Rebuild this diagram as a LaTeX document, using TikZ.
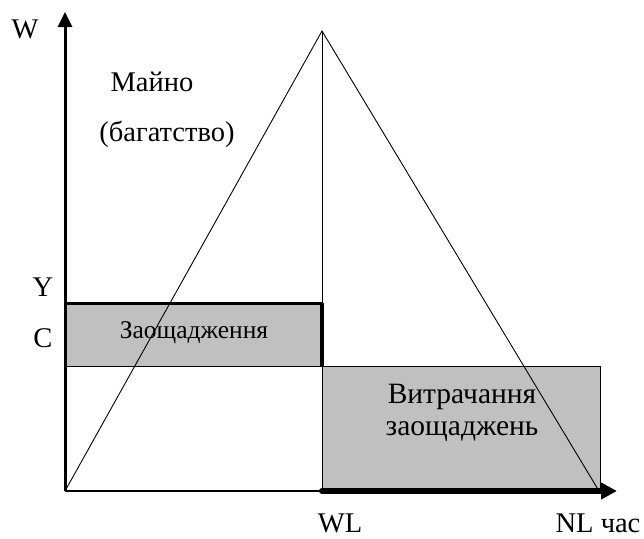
\documentclass[tikz,border=0pt]{standalone}
\usepackage{fontspec}
\setmainfont{Liberation Serif}
\usetikzlibrary{arrows.meta}
\definecolor{savegray}{RGB}{192,192,192}

\begin{document}
\begin{tikzpicture}[
          x=1pt, y=-1pt,
          label/.style={font=\fontsize{28.5}{31}\selectfont, inner sep=0pt, anchor=base},
          area/.style={fill=savegray, draw=black, line width=0.8pt},
          thinline/.style={line width=0.9pt},
          axis/.style={line width=3pt, -{Triangle[width=14pt,length=15pt]}},
          ]
          \useasboundingbox (0,0) rectangle (644,538);

          % main points of the scheme
          \coordinate (O) at (65,491);
          \coordinate (yend) at (65,12);
          \coordinate (top) at (322,31);
          \coordinate (nl) at (599,491);
          \coordinate (wl) at (322,491);
          \coordinate (xend) at (617,491);
          \coordinate (yl) at (65,303);
          \coordinate (cl) at (65,366);
          \coordinate (wy) at (322,303);
          \coordinate (wc) at (322,366);
          \coordinate (nb) at (600,489);

          % areas
          \draw[area] (yl) rectangle (wc);
          \draw[area] (wc) rectangle (nb);

          % texts
          \node[label] (W) at (25,38) {W};
          \node[label] (Y) at (43,296) {Y};
          \node[label] (C) at (43,347) {C};
          \node[label] (wllab) at (340,532) {WL};
          \node[label] (nllab) at (598,532) {NL час};
          \node[label] (mayno) at (152,91) {Майно};
          \node[label] (wealth) at (167,141) {(багатство)};
          \node[label, font=\fontsize{25.5}{28}\selectfont] (save) at (194,338) {Заощадження};
          \node[label, font=\fontsize{29.5}{32}\selectfont] (spend) at (462,403) {Витрачання};
          \node[label, font=\fontsize{29.5}{32}\selectfont] (spendb) at (462,435) {заощаджень};

          % triangle of wealth
          \draw[thinline] (O) -- (top) -- (nl);
          \draw[thinline] (top) -- (wy);

          % heavy lines
          \draw[line width=3pt] (yl) -- (wy);
          \draw[line width=4pt] (wy) -- (wc);
          \draw[line width=2.5pt] (O) -- (wl);
          \draw[line width=6pt, line cap=round, -{Triangle[width=16pt,length=16pt]}] (wl) -- (xend);
          \draw[axis] (O) -- (yend);

        \end{tikzpicture}
\end{document}
